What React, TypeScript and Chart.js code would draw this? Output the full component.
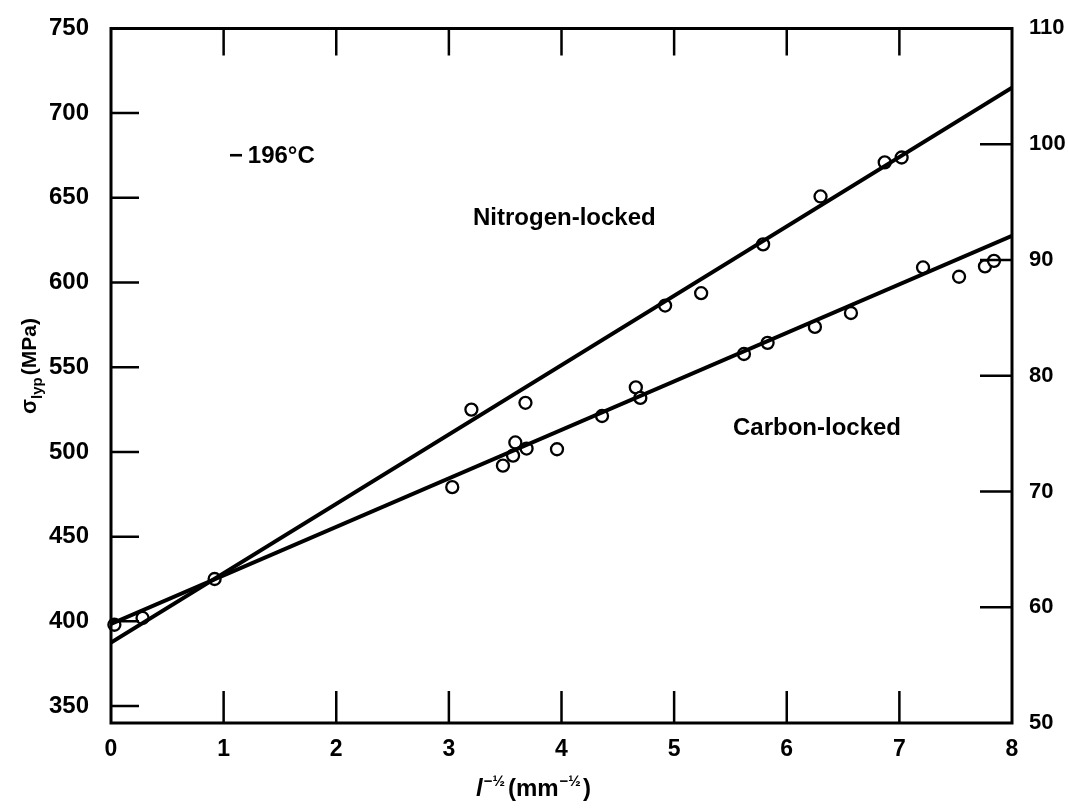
import React, { useEffect, useRef } from "react";
import { Chart, registerables } from "chart.js";

Chart.register(...registerables);

// ---- data ----
const xTickValues = [0, 1, 2, 3, 4, 5, 6, 7, 8];
const leftTickValues = [350, 400, 450, 500, 550, 600, 650, 700, 750];
const rightTickValues = [50, 60, 70, 80, 90, 100, 110];

const nitrogenX = [3.2, 3.68, 4.92, 5.24, 5.79, 6.3, 6.87, 7.02];
const nitrogenY = [525.0, 529.0, 586.4, 593.7, 622.5, 650.8, 670.9, 673.8];

const carbonX = [0.03, 0.28, 0.92, 3.03, 3.48, 3.57, 3.59, 3.69, 3.96, 4.36, 4.66, 4.7, 5.62, 5.83, 6.25, 6.57, 7.21, 7.53, 7.76, 7.84];
const carbonY = [398, 402, 425, 479.2, 491.9, 497.8, 505.6, 502.0, 501.6, 521.2, 538.1, 531.9, 557.8, 564.4, 573.8, 582.0, 608.9, 603.4, 609.5, 612.8];

const nitrogenFitX = [0, 8];
const nitrogenFitY = [387.5, 715];
const carbonFitX = [0, 8];
const carbonFitY = [398.5, 627.5];

const FONT = "'Liberation Sans', Arial, Helvetica, sans-serif";

const framePlugin = {
  id: "frameAndText",
  afterDatasetsDraw(chart: any) {
    const { ctx, chartArea } = chart;
    const { left, right, top, bottom } = chartArea;
    const xs = chart.scales.x;
    const yl = chart.scales.y;
    const yr = chart.scales.y2;
    ctx.save();
    ctx.strokeStyle = "#000";
    ctx.lineCap = "square";
    ctx.lineWidth = 3;
    ctx.beginPath();
    ctx.moveTo(left, top);
    ctx.lineTo(right, top);
    ctx.lineTo(right, bottom);
    ctx.lineTo(left, bottom);
    ctx.closePath();
    ctx.stroke();

    ctx.lineWidth = 2.5;
    ctx.lineCap = "butt";
    ctx.beginPath();
    leftTickValues.forEach((v) => {
      if (v === 750) return;
      const py = yl.getPixelForValue(v);
      ctx.moveTo(left, py);
      ctx.lineTo(left + 28, py);
    });
    rightTickValues.forEach((v) => {
      if (v === 50 || v === 110) return;
      const py = yr.getPixelForValue(v);
      ctx.moveTo(right, py);
      ctx.lineTo(right - 32, py);
    });
    xTickValues.forEach((v) => {
      if (v === 0 || v === 8) return;
      const px = xs.getPixelForValue(v);
      ctx.moveTo(px, bottom);
      ctx.lineTo(px, bottom - 32);
      ctx.moveTo(px, top);
      ctx.lineTo(px, top + 27);
    });
    ctx.stroke();
    ctx.restore();
  },
  afterDraw(chart: any) {
    const { ctx } = chart;
    ctx.save();
    ctx.fillStyle = "#000";
    ctx.textBaseline = "middle";
    ctx.textAlign = "left";
    ctx.font = `bold 24px ${FONT}`;
    ctx.fillText("\u2212\u2009196\u00b0C", 229, 156);
    ctx.fillText("Nitrogen-locked", 473, 218);
    ctx.fillText("Carbon-locked", 733, 428);

    // x-axis title: l^-1/2 (mm^-1/2)
    ctx.textBaseline = "alphabetic";
    let x = 476;
    const base = 796;
    ctx.font = `italic bold 24px ${FONT}`;
    ctx.fillText("l", x, base);
    x += ctx.measureText("l").width + 1;
    ctx.font = `bold 15px ${FONT}`;
    ctx.fillText("\u2212\u00bd", x, base - 10);
    x += ctx.measureText("\u2212\u00bd").width + 3;
    ctx.font = `bold 24px ${FONT}`;
    ctx.fillText("(mm", x, base);
    x += ctx.measureText("(mm").width + 1;
    ctx.font = `bold 15px ${FONT}`;
    ctx.fillText("\u2212\u00bd", x, base - 10);
    x += ctx.measureText("\u2212\u00bd").width + 2;
    ctx.font = `bold 24px ${FONT}`;
    ctx.fillText(")", x, base);

    // y-axis title: sigma_lyp (MPa), rotated
    ctx.translate(36, 414);
    ctx.rotate(-Math.PI / 2);
    let t = 0;
    ctx.font = `bold 22px ${FONT}`;
    ctx.fillText("\u03c3", t, 0);
    t += ctx.measureText("\u03c3").width;
    ctx.font = `bold 15px ${FONT}`;
    ctx.fillText("lyp", t, 6);
    t += ctx.measureText("lyp").width + 2;
    ctx.font = `bold 21px ${FONT}`;
    ctx.fillText("(MPa)", t, 0);
    ctx.restore();
  },
};

export default function App() {
  const canvasRef = useRef<HTMLCanvasElement | null>(null);

  useEffect(() => {
    const canvas = canvasRef.current;
    if (!canvas) return;
    const pointStyle = {
      pointStyle: "circle",
      pointRadius: 6,
      pointBorderWidth: 2.3,
      pointBackgroundColor: "#fff",
      pointBorderColor: "#000",
      order: 1,
      clip: false,
      yAxisID: "y",
    };
    const chart = new Chart(canvas, {
      type: "scatter",
      data: {
        datasets: [
          {
            type: "line",
            label: "Nitrogen-locked fit",
            data: nitrogenFitX.map((v, i) => ({ x: v, y: nitrogenFitY[i] })),
            borderColor: "#000",
            borderWidth: 4,
            pointRadius: 0,
            showLine: true,
            fill: false,
            order: 0,
            yAxisID: "y",
          },
          {
            type: "line",
            label: "Carbon-locked fit",
            data: carbonFitX.map((v, i) => ({ x: v, y: carbonFitY[i] })),
            borderColor: "#000",
            borderWidth: 4,
            pointRadius: 0,
            showLine: true,
            fill: false,
            order: 0,
            yAxisID: "y",
          },
          {
            label: "Nitrogen-locked",
            data: nitrogenX.map((v, i) => ({ x: v, y: nitrogenY[i] })),
            ...pointStyle,
          },
          {
            label: "Carbon-locked",
            data: carbonX.map((v, i) => ({ x: v, y: carbonY[i] })),
            ...pointStyle,
          },
        ],
      },
      options: {
        animation: false,
        responsive: false,
        maintainAspectRatio: false,
        devicePixelRatio: 1,
        layout: { padding: { top: 22, left: 0, right: 0, bottom: 0 } },
        plugins: {
          legend: { display: false },
          tooltip: { enabled: false },
          title: { display: false },
        },
        scales: {
          x: {
            type: "linear",
            position: "bottom",
            min: 0,
            max: 8,
            grid: { display: false },
            border: { display: false },
            afterBuildTicks: (s: any) => {
              s.ticks = xTickValues.map((v) => ({ value: v }));
            },
            afterFit: (s: any) => {
              s.height = 85;
            },
            ticks: {
              color: "#000",
              padding: 5,
              font: { family: FONT, size: 23, weight: "bold" },
              callback: (v: any) => String(v),
            },
          },
          y: {
            type: "linear",
            position: "left",
            min: 340,
            max: 750,
            grid: { display: false },
            border: { display: false },
            afterBuildTicks: (s: any) => {
              s.ticks = leftTickValues.map((v) => ({ value: v }));
            },
            afterFit: (s: any) => {
              s.width = 111;
            },
            ticks: {
              color: "#000",
              padding: 14,
              font: { family: FONT, size: 24, weight: "bold" },
              callback: (v: any) => String(v),
            },
          },
          y2: {
            type: "linear",
            position: "right",
            min: 50,
            max: 110,
            grid: { display: false },
            border: { display: false },
            afterBuildTicks: (s: any) => {
              s.ticks = rightTickValues.map((v) => ({ value: v }));
            },
            afterFit: (s: any) => {
              s.width = 56;
            },
            ticks: {
              color: "#000",
              padding: 9,
              font: { family: FONT, size: 22, weight: "bold" },
              callback: (v: any) => String(v),
            },
          },
        },
      },
      plugins: [framePlugin],
    });
    return () => chart.destroy();
  }, []);

  return (
    <div style={{ position: "absolute", left: 0, top: 0, width: 1068, height: 808, background: "#fff" }}>
      <canvas ref={canvasRef} width={1068} height={808} style={{ display: "block" }} />
    </div>
  );
}
